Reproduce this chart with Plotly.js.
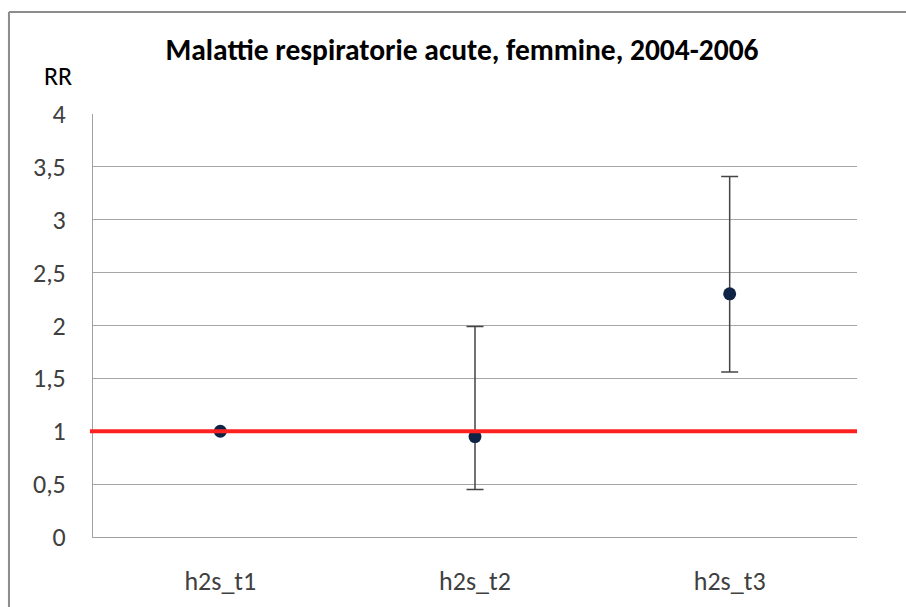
<!DOCTYPE html>
<html>
<head>
<meta charset="utf-8">
<script src="https://cdn.plot.ly/plotly-3.0.1.min.js"></script>
<style>
  body { margin: 0; background: #fff; }
  #chart { width: 906px; height: 607px; }
</style>
</head>
<body>
<div id="chart"></div>
<script>
var categories = ["h2s_t1", "h2s_t2", "h2s_t3"];
var rr = [1.0, 0.95, 2.30];
var upper = [1.0, 1.99, 3.41];
var lower = [1.0, 0.45, 1.56];
var yTickVals = [0, 0.5, 1, 1.5, 2, 2.5, 3, 3.5, 4];
var yTickText = ["0", "0,5", "1", "1,5", "2", "2,5", "3", "3,5", "4"];
var refLine = 1;

var errPlus = [], errMinus = [];
for (var i = 0; i < rr.length; i++) {
    errPlus.push(upper[i] - rr[i]);
    errMinus.push(rr[i] - lower[i]);
}

var fontFam = "Carlito, Calibri, 'Open Sans', sans-serif";

var data = [{
    x: categories,
    y: rr,
    type: "scatter",
    mode: "markers",
    marker: { color: "#0f2444", size: 13 },
    error_y: {
        type: "data",
        array: errPlus,
        arrayminus: errMinus,
        color: "#454545",
        thickness: 1.5,
        width: 8.5
    },
    hoverinfo: "none"
}];

var layout = {
    width: 906,
    height: 607,
    margin: { l: 93, r: 49, t: 114, b: 70 },
    paper_bgcolor: "#fff",
    plot_bgcolor: "#fff",
    showlegend: false,
    font: { family: fontFam, size: 26, color: "#404040" },
    title: {
        text: "Malattie respiratorie acute, femmine, 2004-2006",
        font: { family: fontFam, size: 29.5, color: "#000", weight: "bold" },
        x: 0.51,
        xanchor: "center",
        y: 0.918,
        yanchor: "middle"
    },
    xaxis: {
        type: "category",
        range: [-0.5, 2.5],
        showgrid: false,
        showline: true,
        linecolor: "#a0a0a0",
        linewidth: 1,
        ticks: "",
        ticklabelstandoff: 21,
        zeroline: false
    },
    yaxis: {
        range: [0, 4],
        tickvals: yTickVals,
        ticktext: yTickText,
        showgrid: true,
        gridcolor: "#a6a6a6",
        gridwidth: 1,
        showline: true,
        linecolor: "#a0a0a0",
        zeroline: false,
        ticks: "",
        ticklabelstandoff: 21
    },
    annotations: [{
        text: "RR",
        xref: "paper", yref: "paper",
        x: -0.046, y: 1.09,
        xanchor: "center", yanchor: "middle",
        showarrow: false,
        font: { family: fontFam, size: 26, color: "#000" }
    }],
    shapes: [
        {
            type: "line", xref: "paper", yref: "y",
            x0: -0.004, x1: 1, y0: refLine, y1: refLine,
            line: { color: "#ff2020", width: 4 },
            layer: "above"
        },
        {
            type: "line", xref: "paper", yref: "paper",
            x0: -0.11, x1: 1.07, y0: 1.241, y1: 1.241,
            line: { color: "#8c8c8c", width: 2 }
        },
        {
            type: "line", xref: "paper", yref: "paper",
            x0: -0.11, x1: -0.11, y0: 1.241, y1: -0.2,
            line: { color: "#8c8c8c", width: 2 }
        }
    ]
};

Plotly.newPlot("chart", data, layout, { displayModeBar: false, staticPlot: true });
</script>
</body>
</html>
